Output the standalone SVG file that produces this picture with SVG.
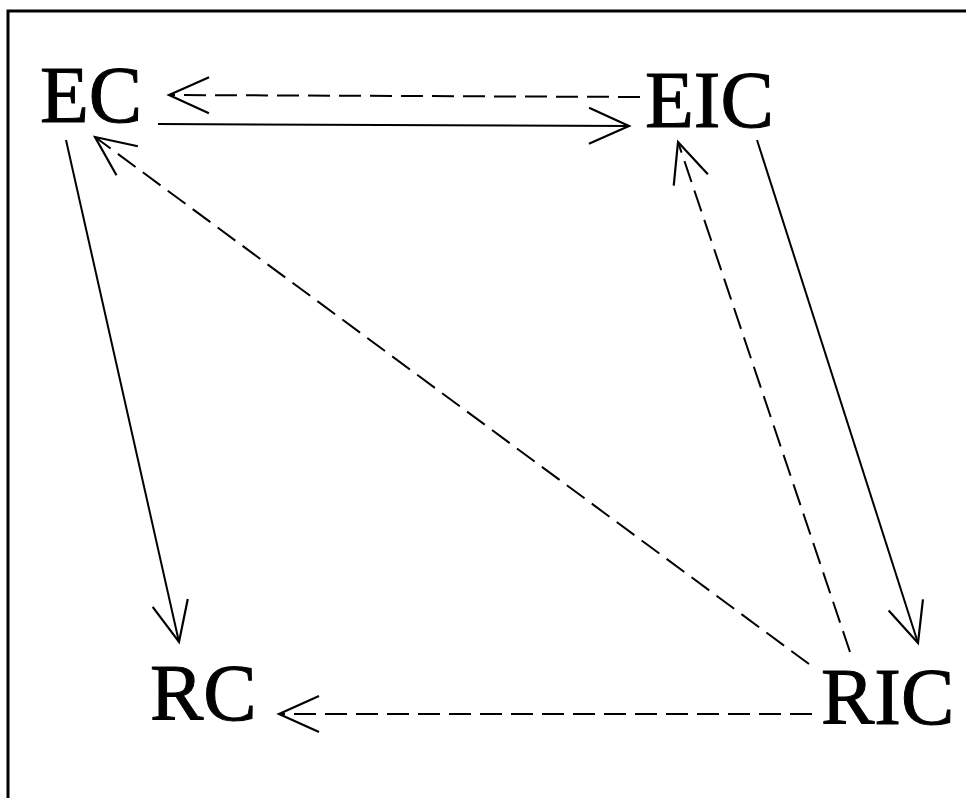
<svg xmlns="http://www.w3.org/2000/svg" width="966" height="798" viewBox="0 0 966 798">
<style>
.lbl{font-family:"Liberation Serif","Times New Roman",serif;font-size:80px;fill:#000;stroke:#000;stroke-width:1}
.ln{fill:none;stroke:#000;stroke-width:2}
.dash{stroke-dasharray:22 9}
.frame{fill:none;stroke:#000;stroke-width:3}
</style>
<defs>
<marker id="v" markerUnits="userSpaceOnUse" markerWidth="60" markerHeight="60" viewBox="-50 -30 60 60" refX="0" refY="0" orient="auto" overflow="visible">
<path d="M-40,-18 L0,0 L-40,18" fill="none" stroke="#000" stroke-width="2.2"/>
</marker>
</defs>
<rect width="966" height="798" fill="#fff"/>
<path class="frame" d="M8,798 L8,11 L966,11"/>
<g id="connectors">
<line class="ln dash" x1="640" y1="97" x2="169" y2="95" marker-end="url(#v)"/>
<line class="ln" x1="158" y1="124" x2="629" y2="126" marker-end="url(#v)"/>
<line class="ln" x1="66" y1="140" x2="179" y2="642" marker-end="url(#v)"/>
<line class="ln dash" x1="809" y1="664" x2="95" y2="137" marker-end="url(#v)"/>
<line class="ln dash" x1="850" y1="652" x2="678" y2="142" marker-end="url(#v)"/>
<line class="ln" x1="757" y1="140" x2="918" y2="643" marker-end="url(#v)"/>
<line class="ln dash" x1="812" y1="714" x2="279" y2="714" marker-end="url(#v)"/>
</g>
<g id="EC"><text class="lbl" x="40" y="122">EC</text></g>
<g id="EIC"><text class="lbl" x="645" y="127">EIC</text></g>
<g id="RC"><text class="lbl" x="150" y="720">RC</text></g>
<g id="RIC"><text class="lbl" x="821" y="724">RIC</text></g>
</svg>
